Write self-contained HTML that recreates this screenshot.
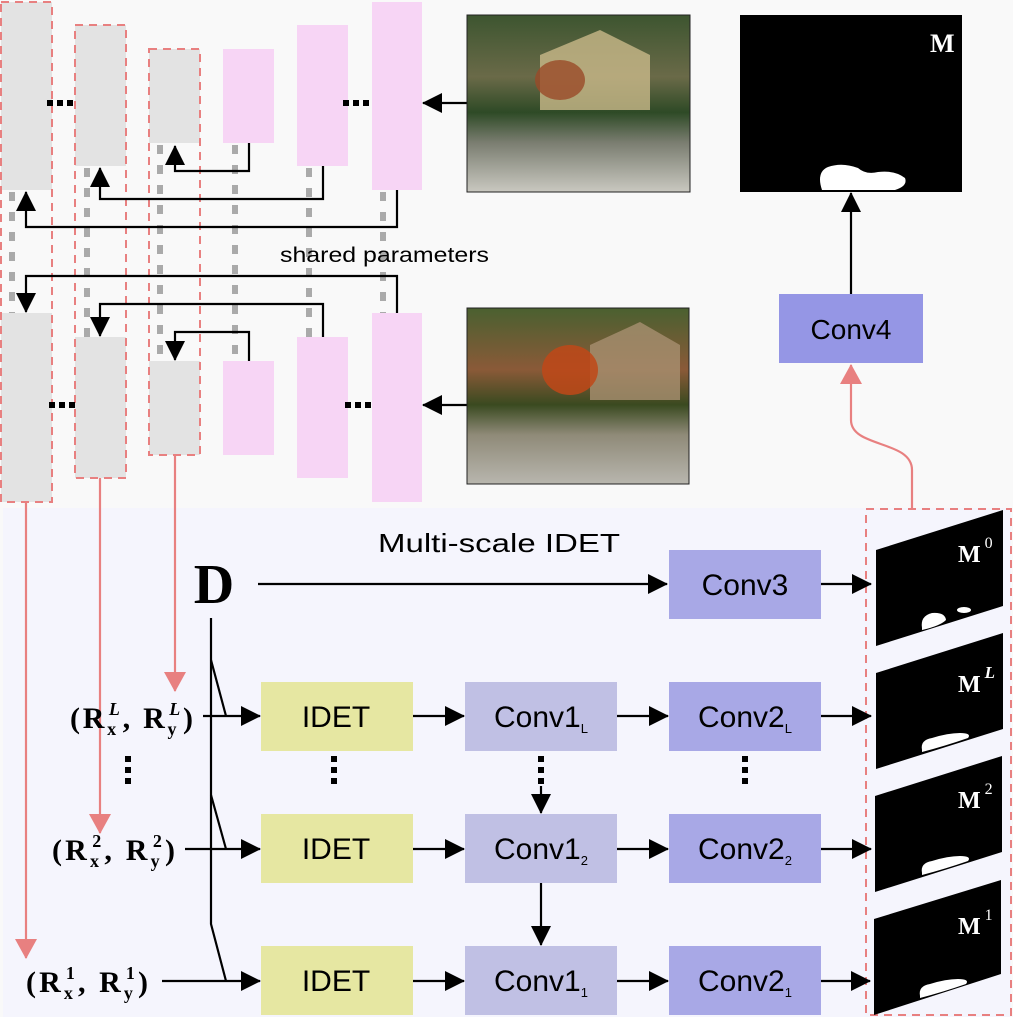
<!DOCTYPE html>
<html><head><meta charset="utf-8"><style>
html,body{margin:0;padding:0;background:#f9f9f9;}
svg{display:block;}
.s{font-family:"Liberation Sans",sans-serif;}
.m{font-family:"Liberation Serif",serif;font-weight:bold;}
</style></head><body>
<svg width="1013" height="1017" viewBox="0 0 1013 1017" xmlns="http://www.w3.org/2000/svg">
<defs>
<marker id="ahb" markerWidth="20" markerHeight="20" refX="19" refY="10" orient="auto" markerUnits="userSpaceOnUse" viewBox="0 0 20 20"><path d="M0,0 L20,10 L0,20z" fill="#000"/></marker>
<marker id="ahr" markerWidth="20" markerHeight="22" refX="19" refY="11" orient="auto" markerUnits="userSpaceOnUse" viewBox="0 0 20 22"><path d="M0,0 L20,11 L0,22z" fill="#e88080"/></marker>
<linearGradient id="img1" x1="0" y1="0" x2="0" y2="1">
<stop offset="0" stop-color="#3d5530"/><stop offset="0.35" stop-color="#6a6a48"/><stop offset="0.55" stop-color="#2e4a26"/><stop offset="0.72" stop-color="#7a7d70"/><stop offset="1" stop-color="#c9c8c0"/></linearGradient>
<linearGradient id="img2" x1="0" y1="0" x2="0" y2="1">
<stop offset="0" stop-color="#4a6030"/><stop offset="0.35" stop-color="#8a5a38"/><stop offset="0.55" stop-color="#3a4a20"/><stop offset="0.72" stop-color="#8f8a78"/><stop offset="1" stop-color="#b8b6ae"/></linearGradient>
</defs>

<rect x="3" y="508" width="1008" height="509" fill="#f5f5fd"/>

<g fill="#e3e3e3">
<rect x="1" y="2" width="51" height="188"/><rect x="1" y="313" width="51" height="189"/>
<rect x="75" y="25" width="51" height="141"/><rect x="75" y="337" width="51" height="141"/>
<rect x="149" y="49" width="51" height="94"/><rect x="149" y="361" width="51" height="94"/>
</g>
<g fill="#f7d5f5">
<rect x="223" y="49" width="51" height="94"/><rect x="223" y="361" width="51" height="94"/>
<rect x="297" y="25" width="51" height="141"/><rect x="297" y="337" width="51" height="141"/>
<rect x="372" y="2" width="50" height="188"/><rect x="372" y="313" width="50" height="189"/>
</g>
<g stroke="#aaa" stroke-width="6" stroke-dasharray="9,11">
<line x1="12" y1="192" x2="12" y2="313"/>
<line x1="87" y1="168" x2="87" y2="337"/>
<line x1="160" y1="145" x2="160" y2="361"/>
<line x1="235" y1="145" x2="235" y2="361"/>
<line x1="309" y1="168" x2="309" y2="337"/>
<line x1="383" y1="192" x2="383" y2="313"/>
</g>
<g fill="none" stroke="#e88080" stroke-width="2" stroke-dasharray="8,6">
<rect x="1" y="2" width="51" height="500"/>
<rect x="75" y="25" width="51" height="453"/>
<rect x="149" y="49" width="51" height="406"/>
<rect x="866" y="509" width="145" height="506"/>
</g>
<g fill="#000">
<rect x="47" y="100" width="6" height="6"/><rect x="57" y="100" width="6" height="6"/><rect x="67" y="100" width="6" height="6"/>
<rect x="343" y="100" width="6" height="6"/><rect x="353" y="100" width="6" height="6"/><rect x="363" y="100" width="6" height="6"/>
<rect x="49" y="402" width="6" height="6"/><rect x="59" y="402" width="6" height="6"/><rect x="69" y="402" width="6" height="6"/>
<rect x="345" y="402" width="6" height="6"/><rect x="355" y="402" width="6" height="6"/><rect x="365" y="402" width="6" height="6"/>
</g>
<g fill="none" stroke="#000" stroke-width="2.2">
<path d="M249 143 V171 H175 V146" marker-end="url(#ahb)"/>
<path d="M323 166 V199 H100 V168" marker-end="url(#ahb)"/>
<path d="M397 190 V227 H26 V192" marker-end="url(#ahb)"/>
<path d="M397 313 V276 H26 V312" marker-end="url(#ahb)"/>
<path d="M323 337 V304 H100 V336" marker-end="url(#ahb)"/>
<path d="M249 361 V332 H175 V360" marker-end="url(#ahb)"/>
<path d="M467 103 H423" marker-end="url(#ahb)"/>
<path d="M467 405 H423" marker-end="url(#ahb)"/>
<path d="M851 294 V193" marker-end="url(#ahb)"/>
</g>
<text x="280" y="262" class="s" font-size="21" fill="#000" textLength="209" lengthAdjust="spacingAndGlyphs">shared parameters</text>

<rect x="467" y="15" width="223" height="177" fill="url(#img1)" stroke="#222" stroke-width="1"/>
<polygon points="540,55 600,30 650,55 650,110 540,110" fill="#c9b98a" opacity="0.8"/>
<ellipse cx="560" cy="80" rx="25" ry="20" fill="#9a4a28" opacity="0.8"/>
<rect x="467" y="308" width="222" height="176" fill="url(#img2)" stroke="#222" stroke-width="1"/>
<polygon points="590,345 640,322 680,345 680,400 590,400" fill="#a89070" opacity="0.8"/>
<ellipse cx="570" cy="370" rx="28" ry="25" fill="#c04818" opacity="0.85"/>

<rect x="740" y="15" width="222" height="177" fill="#000"/>
<path d="M822 190 Q816 172 828 167 Q842 162 858 168 Q866 175 878 172 Q895 170 905 178 Q908 186 895 190 Z" fill="#fff"/>
<text x="930" y="52" class="m" font-size="26" fill="#fff">M</text>

<rect x="779" y="294" width="144" height="69" fill="#9596e5"/>
<text x="851" y="339" class="s" font-size="28" text-anchor="middle">Conv4</text>
<path d="M912 508 V470 C912 440 851 448 851 420 V365" fill="none" stroke="#e88080" stroke-width="2.2" marker-end="url(#ahr)"/>

<g fill="none" stroke="#e88080" stroke-width="2.2">
<path d="M26 502 V958" marker-end="url(#ahr)"/>
<path d="M100 478 V833" marker-end="url(#ahr)"/>
<path d="M175 455 V691" marker-end="url(#ahr)"/>
</g>

<text x="378" y="552" class="s" font-size="26" textLength="242" lengthAdjust="spacingAndGlyphs">Multi-scale IDET</text>
<text x="214" y="603" class="m" font-size="56" text-anchor="middle">D</text>

<g fill="#e6e7a2"><rect x="261" y="682" width="152" height="69"/><rect x="261" y="814" width="152" height="69"/><rect x="261" y="946" width="152" height="69"/></g>
<g fill="#c0c0e4"><rect x="465" y="682" width="152" height="69"/><rect x="465" y="814" width="152" height="69"/><rect x="465" y="946" width="152" height="69"/></g>
<g fill="#a8a8e6"><rect x="669" y="682" width="152" height="69"/><rect x="669" y="814" width="152" height="69"/><rect x="669" y="946" width="152" height="69"/><rect x="669" y="550" width="152" height="69"/></g>

<g class="s" font-size="30" text-anchor="middle">
<text x="336" y="727">IDET</text><text x="336" y="859">IDET</text><text x="336" y="991">IDET</text>
<text x="541" y="727">Conv1<tspan font-size="13" dy="6">L</tspan></text>
<text x="541" y="859">Conv1<tspan font-size="13" dy="6">2</tspan></text>
<text x="541" y="991">Conv1<tspan font-size="13" dy="6">1</tspan></text>
<text x="745" y="727">Conv2<tspan font-size="13" dy="6">L</tspan></text>
<text x="745" y="859">Conv2<tspan font-size="13" dy="6">2</tspan></text>
<text x="745" y="991">Conv2<tspan font-size="13" dy="6">1</tspan></text>
<text x="745" y="595">Conv3</text>
</g>

<g fill="none" stroke="#000" stroke-width="2.2">
<path d="M258 584 H667" marker-end="url(#ahb)"/>
<path d="M821 584 H871" marker-end="url(#ahb)"/>
<path d="M211 618 V924 L226 981"/>
<path d="M211 660 L226 716"/>
<path d="M211 795 L226 849"/>
<path d="M203 716 H260" marker-end="url(#ahb)"/>
<path d="M185 849 H260" marker-end="url(#ahb)"/>
<path d="M162 981 H260" marker-end="url(#ahb)"/>
<path d="M413 716 H464" marker-end="url(#ahb)"/>
<path d="M413 849 H464" marker-end="url(#ahb)"/>
<path d="M413 981 H464" marker-end="url(#ahb)"/>
<path d="M617 716 H668" marker-end="url(#ahb)"/>
<path d="M617 849 H668" marker-end="url(#ahb)"/>
<path d="M617 981 H668" marker-end="url(#ahb)"/>
<path d="M821 716 H871" marker-end="url(#ahb)"/>
<path d="M821 849 H871" marker-end="url(#ahb)"/>
<path d="M821 981 H870" marker-end="url(#ahb)"/>
<path d="M541 883 V945" marker-end="url(#ahb)"/>
<path d="M541 786 V813" marker-end="url(#ahb)"/>
</g>
<g fill="#000">
<rect x="125" y="756" width="6" height="6"/><rect x="125" y="767" width="6" height="6"/><rect x="125" y="778" width="6" height="6"/>
<rect x="331" y="756" width="6" height="6"/><rect x="331" y="767" width="6" height="6"/><rect x="331" y="778" width="6" height="6"/>
<rect x="538" y="756" width="6" height="6"/><rect x="538" y="767" width="6" height="6"/><rect x="538" y="778" width="6" height="6"/>
<rect x="742" y="756" width="6" height="6"/><rect x="742" y="767" width="6" height="6"/><rect x="742" y="778" width="6" height="6"/>
</g>

<g class="m" font-size="30">
<text x="70" y="728" textLength="123" lengthAdjust="spacing">(R<tspan font-size="18" dy="7">x</tspan><tspan font-size="18" dx="-10" dy="-20" font-style="italic">L</tspan><tspan dy="13">, R</tspan><tspan font-size="18" dy="7">y</tspan><tspan font-size="18" dx="-10" dy="-20" font-style="italic">L</tspan><tspan dy="13">)</tspan></text>
<text x="52" y="860" textLength="123" lengthAdjust="spacing">(R<tspan font-size="18" dy="7">x</tspan><tspan font-size="18" dx="-10" dy="-20">2</tspan><tspan dy="13">, R</tspan><tspan font-size="18" dy="7">y</tspan><tspan font-size="18" dx="-10" dy="-20">2</tspan><tspan dy="13">)</tspan></text>
<text x="26" y="992" textLength="122" lengthAdjust="spacing">(R<tspan font-size="18" dy="7">x</tspan><tspan font-size="18" dx="-10" dy="-20">1</tspan><tspan dy="13">, R</tspan><tspan font-size="18" dy="7">y</tspan><tspan font-size="18" dx="-10" dy="-20">1</tspan><tspan dy="13">)</tspan></text>
</g>

<g fill="#000">
<polygon points="876,550 1003,510 1003,606 876,646"/>
<polygon points="876,673 1003,633 1003,729 876,769"/>
<polygon points="875,796 1002,756 1002,852 875,892"/>
<polygon points="874,919 1001,880 1001,974 874,1015"/>
</g>
<g fill="#fff">
<path d="M922 628 Q920 616 932 613 Q945 612 946 620 Q940 626 922 630Z"/><ellipse cx="964" cy="610" rx="7" ry="3"/>
<path d="M922 750 Q920 740 932 738 Q948 733 960 733 Q972 733 968 738 Q945 746 922 752Z"/>
<path d="M922 873 Q920 863 932 861 Q948 856 960 856 Q972 856 968 861 Q945 869 922 875Z"/>
<path d="M920 996 Q918 986 930 984 Q946 979 958 979 Q970 979 966 984 Q943 992 920 998Z"/>
</g>
<g class="m" font-size="24" fill="#fff">
<text x="958" y="562">M<tspan font-size="16" font-weight="normal" dx="4" dy="-14">0</tspan></text>
<text x="958" y="692">M<tspan font-size="17" font-style="italic" dx="4" dy="-14">L</tspan></text>
<text x="958" y="808">M<tspan font-size="16" font-weight="normal" dx="4" dy="-14">2</tspan></text>
<text x="958" y="934">M<tspan font-size="16" font-weight="normal" dx="4" dy="-14">1</tspan></text>
</g>
</svg>
</body></html>
